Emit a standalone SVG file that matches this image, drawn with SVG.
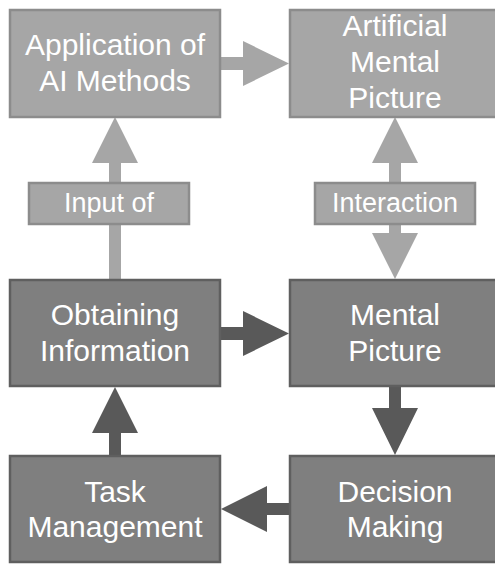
<svg xmlns="http://www.w3.org/2000/svg" width="495" height="564" viewBox="0 0 495 564">
  <style>
    .light { fill: #a6a6a6; }
    .dark { fill: #595959; }
    .boxL { fill: #a6a6a6; stroke: #8c8c8c; stroke-width: 2.5; }
    .boxD { fill: #7f7f7f; stroke: #5f5f5f; stroke-width: 2.5; }
    .lbl { fill: #a6a6a6; stroke: #8c8c8c; stroke-width: 2.5; }
    text { font-family: "Liberation Sans", Arial, sans-serif; fill: #ffffff; text-anchor: middle; }
    .t { font-size: 30px; }
    .s { font-size: 27px; }
  </style>
  <rect width="495" height="564" fill="#ffffff"/>
  <g id="connectors">
    <polygon class="light" points="220,57 243,57 243,41 289,63.5 243,86 243,70 220,70"/>
    <polygon class="dark" points="220,327 243,327 243,311 289,333.5 243,356 243,340 220,340"/>
    <polygon class="dark" points="290,503 267,503 267,486 221,509 267,532 267,515 290,515"/>
    <polygon class="light" points="115,117 138,163 121,163 121,280 109,280 109,163 92,163"/>
    <polygon class="light" points="395,117 418,163 401,163 401,233 418,233 395,279 372,233 389,233 389,163 372,163"/>
    <polygon class="dark" points="389,386 401,386 401,408 418,408 395,455 372,408 389,408"/>
    <polygon class="dark" points="115,387 138,433 121,433 121,456 109,456 109,433 92,433"/>
    <g id="label-input">
      <rect class="lbl" x="29" y="183" width="160" height="41"/>
      <text class="s" x="109" y="212">Input of</text>
    </g>
    <g id="label-interaction">
      <rect class="lbl" x="315" y="183" width="160" height="41"/>
      <text class="s" x="395" y="212">Interaction</text>
    </g>
  </g>
  <g id="node-application">
    <rect class="boxL" x="10" y="10" width="210" height="107"/>
    <text class="t" x="115" y="55">Application of</text>
    <text class="t" x="115" y="90.5">AI Methods</text>
  </g>
  <g id="node-artificial">
    <rect class="boxL" x="290" y="10" width="210" height="107"/>
    <text class="t" x="395" y="35.5">Artificial</text>
    <text class="t" x="395" y="72">Mental</text>
    <text class="t" x="395" y="108">Picture</text>
  </g>
  <g id="node-obtaining">
    <rect class="boxD" x="10" y="280" width="210" height="106"/>
    <text class="t" x="115" y="325">Obtaining</text>
    <text class="t" x="115" y="360.5">Information</text>
  </g>
  <g id="node-mental">
    <rect class="boxD" x="290" y="280" width="210" height="106"/>
    <text class="t" x="395" y="325">Mental</text>
    <text class="t" x="395" y="360.5">Picture</text>
  </g>
  <g id="node-task">
    <rect class="boxD" x="10" y="456" width="210" height="106"/>
    <text class="t" x="115" y="501.5">Task</text>
    <text class="t" x="115" y="537">Management</text>
  </g>
  <g id="node-decision">
    <rect class="boxD" x="290" y="456" width="210" height="106"/>
    <text class="t" x="395" y="501.5">Decision</text>
    <text class="t" x="395" y="537">Making</text>
  </g>
</svg>
